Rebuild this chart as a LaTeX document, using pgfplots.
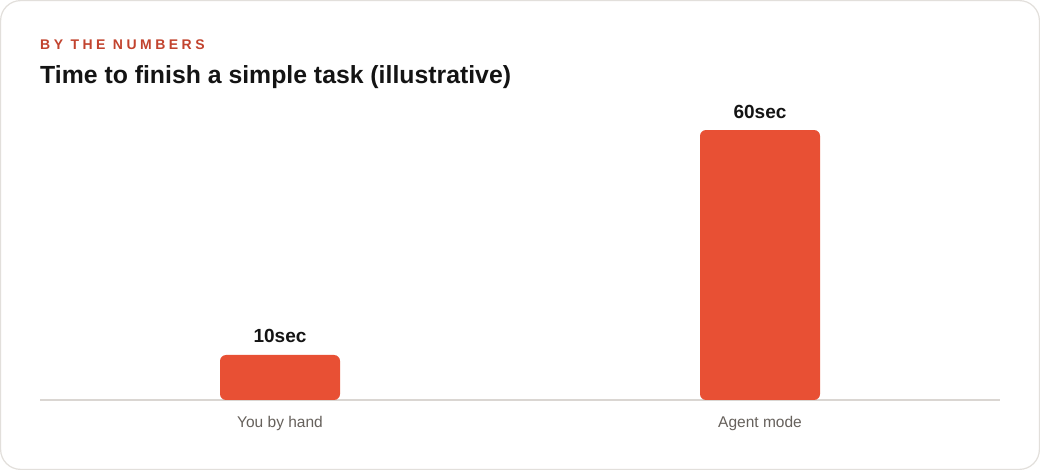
\documentclass[border=0pt]{standalone}
\usepackage{pgfplots}
\pgfplotsset{compat=1.18}
\usepackage{fontspec}
\setmainfont{Liberation Sans}
\definecolor{barc}{HTML}{E85034}
\definecolor{kicker}{HTML}{C2432E}
\definecolor{titlec}{HTML}{141414}
\definecolor{tickc}{HTML}{66615C}
\definecolor{cardb}{HTML}{E2DFDB}
\definecolor{basel}{HTML}{DAD6D2}
\begin{document}
\begin{tikzpicture}
\path[use as bounding box] (0bp,0bp) rectangle (1040bp,470bp);
\draw[draw=cardb, line width=1.2bp, fill=white, rounded corners=20bp] (0.6bp,0.6bp) rectangle (1039.4bp,469.4bp);
\node[anchor=base west, inner sep=0, text=kicker, font={\fontsize{14bp}{16bp}\selectfont\bfseries\addfontfeature{LetterSpace=25}}] at (40bp,420bp) {BY THE NUMBERS};
\node[anchor=base west, inner sep=0, text=titlec, font={\fontsize{24.8bp}{28bp}\selectfont\bfseries}] at (40bp,386bp) {Time to finish a simple task (illustrative)};
\begin{axis}[
  at={(40bp,70bp)}, anchor=south west,
  scale only axis, width=960bp, height=270bp,
  xmin=-0.5, xmax=1.5, ymin=0, ymax=60,
  clip=false,
  axis x line*=bottom, axis y line=none,
  x axis line style={draw=basel, line width=1.5bp, -},
  xtick={0,1}, xticklabels={You by hand, Agent mode},
  major tick length=0pt,
  xticklabel style={anchor=base, inner sep=0pt, yshift=-28bp, text=tickc, font={\fontsize{15.5bp}{18bp}\selectfont}},
  ytick=\empty,
]
\addplot[ybar, bar width=120bp, bar shift=0pt, fill=barc, draw=none, rounded corners=6bp,
  nodes near coords, point meta=explicit symbolic,
  nodes near coords style={anchor=base, inner sep=0pt, yshift=12bp, text=titlec, font={\fontsize{19bp}{22bp}\selectfont\bfseries}}]
  coordinates {(0,10) [10sec] (1,60) [60sec]};
\end{axis}
\end{tikzpicture}
\end{document}
